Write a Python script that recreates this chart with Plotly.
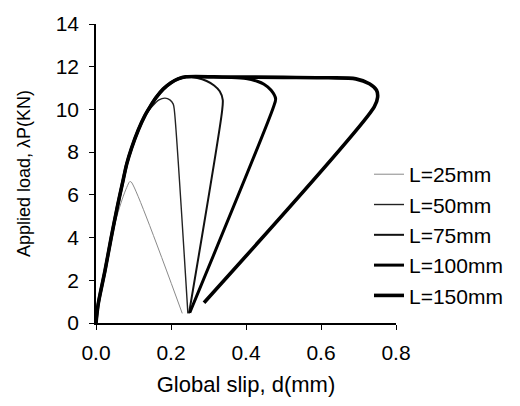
import plotly.graph_objects as go

# ---- data ----
labels = ["L=25mm", "L=50mm", "L=75mm", "L=100mm", "L=150mm"]

x_25 = [0.0, 0.006, 0.024, 0.040, 0.055, 0.070, 0.082, 0.090, 0.094, 0.230]
y_25 = [0.0, 0.90, 2.45, 3.90, 4.95, 5.80, 6.35, 6.62, 6.60, 0.45]

x_50 = [0.0, 0.006, 0.024, 0.040, 0.057, 0.070, 0.082, 0.095, 0.113, 0.130, 0.150, 0.168, 0.184, 0.197, 0.206, 0.209, 0.245]
y_50 = [0.0, 0.90, 2.45, 3.95, 5.45, 6.50, 7.45, 8.20, 9.05, 9.70, 10.15, 10.45, 10.53, 10.45, 10.25, 9.95, 0.45]

x_75 = [0.0, 0.006, 0.024, 0.040, 0.057, 0.070, 0.082, 0.095, 0.113, 0.130, 0.144, 0.160, 0.179, 0.200, 0.219, 0.240, 0.270, 0.295, 0.315, 0.330, 0.338, 0.336, 0.248]
y_75 = [0.0, 0.90, 2.45, 3.95, 5.45, 6.50, 7.45, 8.20, 9.05, 9.70, 10.12, 10.55, 10.95, 11.25, 11.43, 11.53, 11.47, 11.33, 11.12, 10.85, 10.45, 9.90, 0.45]

x_100 = [0.0, 0.006, 0.024, 0.040, 0.057, 0.070, 0.082, 0.095, 0.113, 0.130, 0.144, 0.160, 0.179, 0.200, 0.219, 0.240, 0.300, 0.360, 0.400, 0.430, 0.448, 0.467, 0.479, 0.473, 0.250]
y_100 = [0.0, 0.90, 2.45, 3.95, 5.45, 6.50, 7.45, 8.20, 9.05, 9.70, 10.12, 10.55, 10.95, 11.25, 11.43, 11.53, 11.52, 11.50, 11.45, 11.32, 11.18, 10.90, 10.50, 10.10, 0.48]

x_150 = [0.0, 0.006, 0.024, 0.040, 0.057, 0.070, 0.082, 0.095, 0.113, 0.130, 0.144, 0.160, 0.179, 0.200, 0.219, 0.240, 0.350, 0.500, 0.620, 0.693, 0.729, 0.748, 0.751, 0.742, 0.288]
y_150 = [0.0, 0.90, 2.45, 3.95, 5.45, 6.50, 7.45, 8.20, 9.05, 9.70, 10.12, 10.55, 10.95, 11.25, 11.43, 11.53, 11.52, 11.50, 11.48, 11.43, 11.20, 10.90, 10.58, 10.12, 0.95]

xs = [x_25, x_50, x_75, x_100, x_150]
ys = [y_25, y_50, y_75, y_100, y_150]

x_ticks = [0.0, 0.2, 0.4, 0.6, 0.8]
y_ticks = [0, 2, 4, 6, 8, 10, 12, 14]

colors = ["#8a8a8a", "#222222", "#111111", "#000000", "#000000"]
widths = [1.0, 1.4, 2.0, 3.0, 3.6]

FONT = "Liberation Sans, Arial, sans-serif"

fig = go.Figure()
for xv, yv, name, c, w in zip(xs, ys, labels, colors, widths):
    fig.add_trace(go.Scatter(
        x=xv, y=yv, mode="lines", name=name,
        line=dict(color=c, width=w, shape="spline", smoothing=0.8),
    ))

fig.update_layout(
    width=520, height=406,
    margin=dict(l=96, r=123, t=19, b=83),
    paper_bgcolor="white", plot_bgcolor="white",
    font=dict(family=FONT, size=20, color="black"),
    showlegend=True,
    legend=dict(
        x=0.91, y=0.565, xanchor="left", yanchor="top",
        bgcolor="rgba(0,0,0,0)", borderwidth=0,
        font=dict(family=FONT, size=21, color="black"),
        tracegroupgap=0, itemwidth=30,
    ),
    xaxis=dict(
        range=[0, 0.8], tickvals=x_ticks, tickformat=".1f",
        showgrid=False, zeroline=False,
        showline=True, linecolor="black", linewidth=1.5,
        ticks="outside", ticklen=5, tickwidth=1.2, tickcolor="black",
        ticklabelstandoff=5,
        title=dict(text="Global slip, d(mm)", standoff=14,
                   font=dict(family=FONT, size=22)),
        tickfont=dict(family=FONT, size=21),
    ),
    yaxis=dict(
        range=[0, 14], tickvals=y_ticks,
        showgrid=False, zeroline=False,
        showline=True, linecolor="black", linewidth=1.5,
        ticks="outside", ticklen=5, tickwidth=1.2, tickcolor="black",
        ticklabelstandoff=6,
        title=dict(text="Applied load, λP(KN)", standoff=20,
                   font=dict(family=FONT, size=18)),
        tickfont=dict(family=FONT, size=21),
    ),
)

fig.write_html("out.html")
